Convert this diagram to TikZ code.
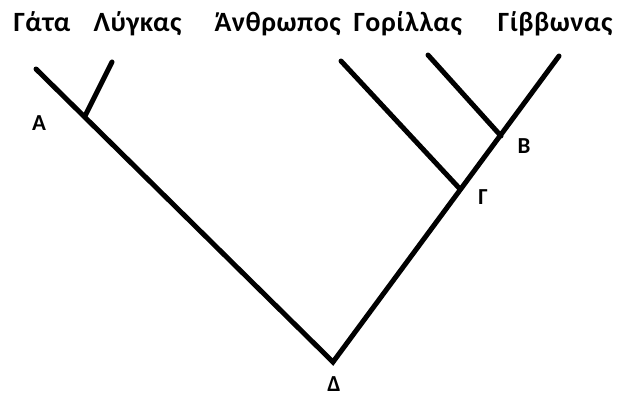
\documentclass[tikz,border=0pt]{standalone}
\usepackage{fontspec}
\setmainfont{Carlito}
\newfontfamily\taxonfont[LetterSpace=2]{Carlito}

\begin{document}
\begin{tikzpicture}[x=1bp,y=-1bp,line width=5bp,line cap=round,
		taxon/.style={anchor=base west,inner sep=0pt,font=\taxonfont\bfseries\fontsize{28}{32}\selectfont},
		point/.style={inner sep=0pt,font=\bfseries\fontsize{23}{27}\selectfont}]
			\useasboundingbox (0,0) rectangle (618,396);
			\node[taxon] (t_gata) at (11,31) {Γάτα};
			\node[taxon] (t_lygkas) at (91,31) {Λύγκας};
			\node[taxon] (t_anthr) at (212,31) {Άνθρωπος};
			\node[taxon] (t_gor) at (351,31) {Γορίλλας};
			\node[taxon,anchor=base east] (t_gibb) at (615,31) {Γίββωνας};
			\coordinate (gata) at (36,69);
			\coordinate (lygkas) at (112,62);
			\coordinate (anthr) at (341,61);
			\coordinate (gor) at (428,55);
			\coordinate (gibb) at (559,56);
			\coordinate (A) at (85,116);
			\coordinate (B) at (501,136);
			\coordinate (G) at (460,189);
			\coordinate (D) at (333,362);
			\node[point] (l_A) at (39,123) {A};
			\node[point] (l_B) at (524,146) {B};
			\node[point] (l_G) at (483,197) {Γ};
			\node[point] (l_D) at (334,384) {Δ};
			\draw (gata) -- (D) -- (gibb)
			(lygkas) -- (A)
			(anthr) -- (G)
			(gor) -- (B);
		\end{tikzpicture}
\end{document}
